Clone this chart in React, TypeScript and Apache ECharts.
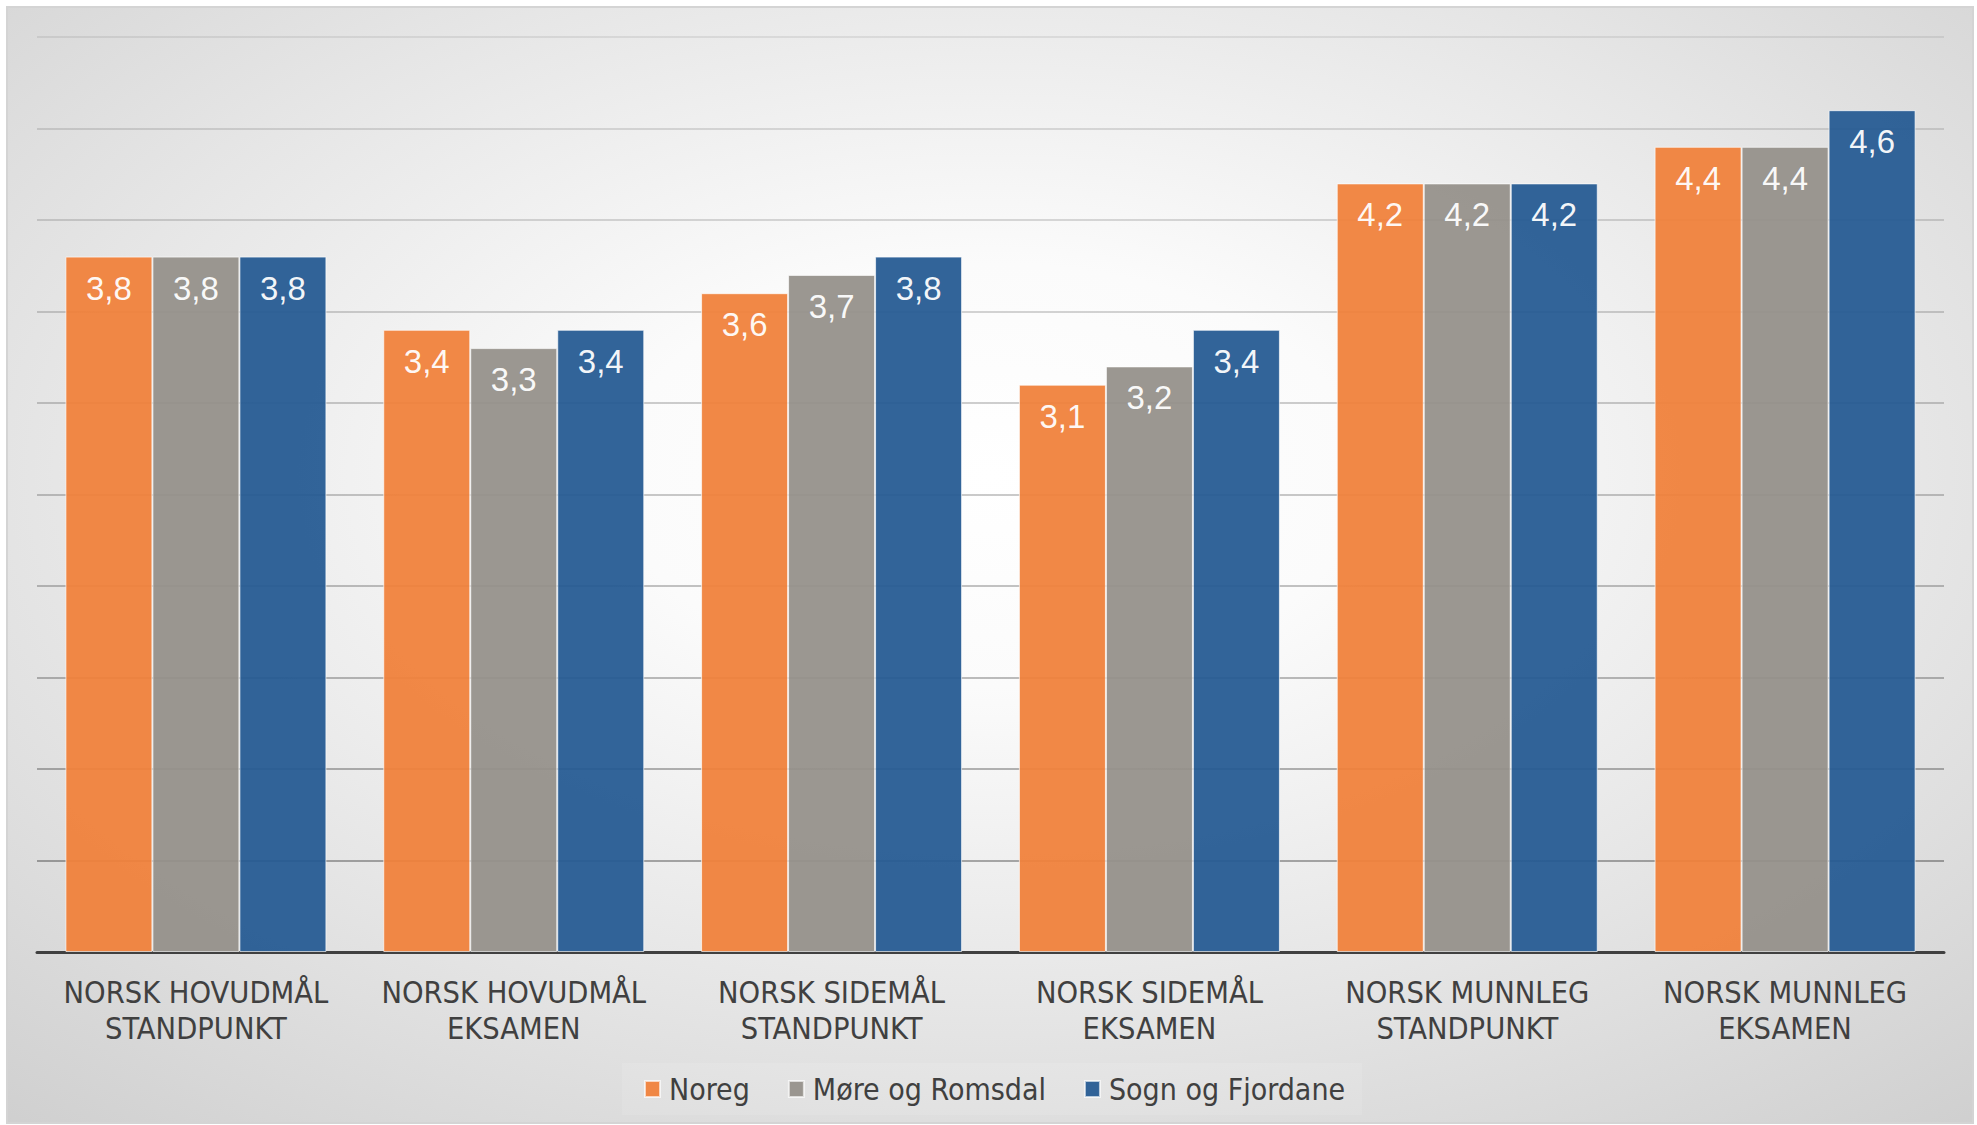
import React, { useEffect, useRef } from "react";
import * as echarts from "echarts";

const categories = [
  "NORSK HOVUDMÅL\nSTANDPUNKT",
  "NORSK HOVUDMÅL\nEKSAMEN",
  "NORSK SIDEMÅL\nSTANDPUNKT",
  "NORSK SIDEMÅL\nEKSAMEN",
  "NORSK MUNNLEG\nSTANDPUNKT",
  "NORSK MUNNLEG\nEKSAMEN",
];
const noreg = [3.8, 3.4, 3.6, 3.1, 4.2, 4.4];
const moreRomsdal = [3.8, 3.3, 3.7, 3.2, 4.2, 4.4];
const sognFjordane = [3.8, 3.4, 3.8, 3.4, 4.2, 4.6];
const seriesNames = ["Noreg", "Møre og Romsdal", "Sogn og Fjordane"];
const seriesColors = ["#f0813a", "#95918a", "#255a93"];
const gridAlphas = [0, 0.42, 0.38, 0.34, 0.31, 0.28, 0.25, 0.22, 0.19, 0.16, 0.1];

const W = 1977;
const H = 1125;
const CONDENSED = "'Liberation Sans Narrow', 'Arial Narrow', 'DejaVu Sans Condensed', sans-serif";

export default function App() {
  const ref = useRef<HTMLDivElement>(null);
  useEffect(() => {
    if (!ref.current) return;
    const chart = echarts.init(ref.current, undefined, { renderer: "svg" });
    const values = [noreg, moreRomsdal, sognFjordane];
    chart.setOption({
      animation: false,
      backgroundColor: "#ffffff",
      graphic: [
        {
          type: "rect",
          z: -10,
          silent: true,
          shape: { x: 7, y: 7, width: 1966, height: 1116 },
          style: {
            fill: {
              type: "radial",
              x: 0.5,
              y: 0.42,
              r: 0.95,
              colorStops: [
                { offset: 0, color: "#ffffff" },
                { offset: 0.2, color: "#fbfbfb" },
                { offset: 0.5, color: "#e6e6e6" },
                { offset: 0.8, color: "#d0d0d0" },
                { offset: 1, color: "#c2c2c2" },
              ],
            },
            stroke: "#d4d4d4",
            lineWidth: 2,
          },
        },
        {
          type: "rect",
          z: -9,
          silent: true,
          shape: { x: 622, y: 1063, width: 740, height: 52 },
          style: { fill: "rgba(255,255,255,0.1)" },
        },
      ],
      grid: { left: 37, right: 33, top: 37, bottom: 173, containLabel: false },
      legend: {
        left: 639,
        top: 1069,
        itemWidth: 15,
        itemHeight: 16,
        itemGap: 38,
        icon: "rect",
        data: seriesNames,
        textStyle: {
          fontFamily: CONDENSED,
          fontSize: 30,
          color: "#404040",
          padding: [0, 0, 0, 4],
        },
      },
      xAxis: {
        type: "category",
        data: categories,
        axisLine: { show: true, lineStyle: { color: "#404040", width: 3 } },
        axisTick: { show: false },
        axisLabel: {
          interval: 0,
          margin: 22,
          fontFamily: CONDENSED,
          fontSize: 30.5,
          lineHeight: 36,
          color: "#404040",
          align: "center",
        },
      },
      yAxis: {
        type: "value",
        min: 0,
        max: 5,
        interval: 0.5,
        axisLabel: { show: false },
        axisLine: { show: false },
        axisTick: { show: false },
        splitLine: {
          show: true,
          lineStyle: {
            width: 1.5,
            color: gridAlphas.map((a) => `rgba(0,0,0,${a})`),
          },
        },
      },
      series: values.map((vals, i) => ({
        name: seriesNames[i],
        type: "bar",
        data: vals,
        barWidth: 87,
        barGap: "0%",
        itemStyle: {
          color: seriesColors[i],
          opacity: 0.94,
          borderColor: "rgba(255,255,255,0.7)",
          borderWidth: 1,
        },
        label: {
          show: true,
          position: "insideTop",
          distance: 15,
          color: "#ffffff",
          fontFamily: "'Liberation Sans', Arial, sans-serif",
          fontSize: 33,
          formatter: (p: any) => String(p.value).replace(".", ","),
        },
      })),
    });
    return () => chart.dispose();
  }, []);
  return (
    <div
      ref={ref}
      style={{ position: "fixed", left: 0, top: 0, width: W, height: H }}
    />
  );
}
